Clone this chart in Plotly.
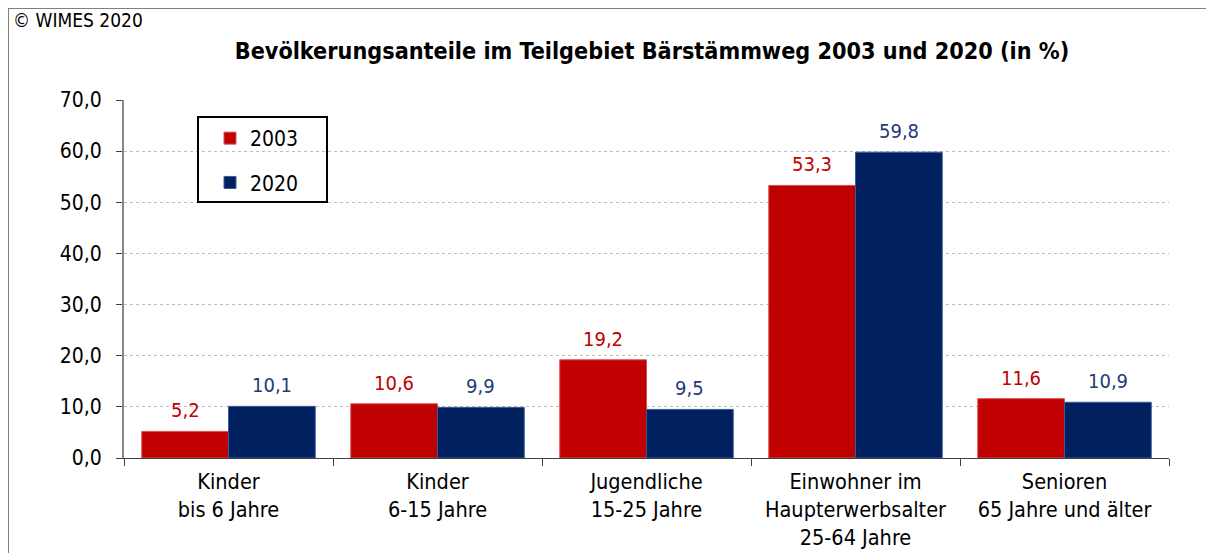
import plotly.graph_objects as go

categories = ["Kinder<br>bis 6 Jahre", "Kinder<br>6-15 Jahre", "Jugendliche<br>15-25 Jahre",
              "Einwohner im<br>Haupterwerbsalter<br>25-64 Jahre", "Senioren<br>65 Jahre und älter"]
series_names = ["2003", "2020"]
values_2003 = [5.2, 10.6, 19.2, 53.3, 11.6]
values_2020 = [10.1, 9.9, 9.5, 59.8, 10.9]
y_ticks = [0, 10, 20, 30, 40, 50, 60, 70]

FONT = "DejaVu Sans Condensed, DejaVu Sans, sans-serif"
bar_colors = ["#C00000", "#002060"]
line_colors = ["#D85050", "#3A5A9A"]
label_colors = ["#C00000", "#1F3A78"]

# page body has an 8px margin; target positions are given in screenshot pixels
OFF = 8
W, H = 1214, 553
PL, PR, PT, PB = 124, 1169, 100, 458  # plot area in screenshot pixels
L, T = PL - OFF, PT - OFF
R, B = W - (PR - OFF), H - (PB - OFF)
pw, ph = PR - PL, PB - PT

def px_x(x):
    return (x - PL) / pw

def px_y(y):
    return (PB - y) / ph

fig = go.Figure()
for i, (name, vals) in enumerate(zip(series_names, [values_2003, values_2020])):
    fig.add_trace(go.Bar(
        x=categories, y=vals, name=name,
        marker=dict(color=bar_colors[i], line=dict(color=line_colors[i], width=1)),
        legendgroup=name,
    ))

group_w = pw / len(categories) * (1 - 0.17)
offsets = [-group_w / 4, group_w / 4]
annotations = []
for i, vals in enumerate([values_2003, values_2020]):
    for c, v in zip(categories, vals):
        annotations.append(dict(
            x=c, y=v, xref="x", yref="y", text=f"{v:.1f}".replace(".", ","),
            showarrow=False, yanchor="bottom", xshift=offsets[i], yshift=7,
            font=dict(family=FONT, size=20, color=label_colors[i]),
        ))

annotations.append(dict(
    x=px_x(11), y=px_y(20), xref="paper", yref="paper", text="© WIMES 2020",
    showarrow=False, xanchor="left", yanchor="middle",
    font=dict(family=FONT, size=19, color="#000000"),
))

shapes = [
    dict(type="rect", xref="paper", yref="paper",
         x0=px_x(8), x1=px_x(1240), y0=px_y(8), y1=px_y(620),
         line=dict(color="#808080", width=2), fillcolor="rgba(0,0,0,0)", layer="above"),
    dict(type="rect", xref="paper", yref="paper",
         x0=px_x(198), x1=px_x(327), y0=px_y(117), y1=px_y(202),
         line=dict(color="#000000", width=2), fillcolor="rgba(0,0,0,0)", layer="above"),
]

fig.update_layout(
    width=W, height=H,
    margin=dict(l=L, r=R, t=T, b=B, autoexpand=False),
    paper_bgcolor="white", plot_bgcolor="white",
    separators=",.",
    barmode="group", bargap=0.17, bargroupgap=0,
    font=dict(family=FONT, size=21, color="#000000"),
    title=dict(text="<b>Bevölkerungsanteile im Teilgebiet Bärstämmweg 2003 und 2020 (in %)</b>",
               x=px_x(652), xref="paper", xanchor="center",
               y=1 - (51 - OFF) / H, yref="container", yanchor="middle",
               font=dict(family=FONT, size=23.2, color="#000000")),
    legend=dict(x=px_x(210), y=px_y(118), xanchor="left", yanchor="top",
                bgcolor="rgba(0,0,0,0)", borderwidth=0,
                traceorder="grouped", tracegroupgap=14,
                font=dict(family=FONT, size=21, color="#000000")),
    showlegend=True,
    annotations=annotations,
    shapes=shapes,
    xaxis=dict(showline=True, linecolor="#404040", linewidth=1,
               ticks="outside", tickson="boundaries", ticklen=7, tickcolor="#404040",
               showgrid=False, ticklabelstandoff=4, automargin=False,
               tickfont=dict(family=FONT, size=21.5, color="#000000")),
    yaxis=dict(range=[0, 70], tickvals=y_ticks, tickformat=".1f",
               showline=True, linecolor="#868686", linewidth=2,
               ticks="outside", ticklen=6, tickcolor="#404040",
               showgrid=True, gridcolor="#BDBDBD", griddash="dot", gridwidth=1,
               zeroline=False, ticklabelstandoff=10, automargin=False,
               tickfont=dict(family=FONT, size=21, color="#000000")),
)

fig.write_html("out.html")
